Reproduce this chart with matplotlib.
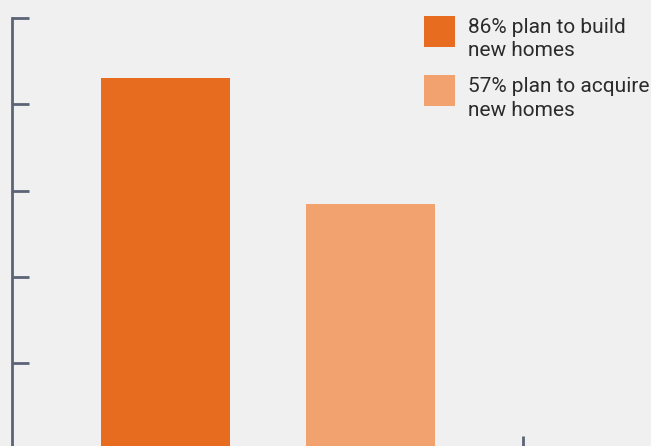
import matplotlib
matplotlib.use("Agg")
import matplotlib.pyplot as plt
from matplotlib.patches import Rectangle

categories = ["Build new homes", "Acquire new homes"]
values = [86, 57]
colors = ["#E86C1F", "#F2A26E"]
legend_labels = ["86% plan to build\nnew homes", "57% plan to acquire\nnew homes"]
yticks = [0, 20, 40, 60, 80, 100]

W, H = 651, 446
fig = plt.figure(figsize=(W / 100, H / 100), dpi=100)
fig.patch.set_facecolor("#F0F0F0")

left_px, top_px, bottom_px = 11.5, 18, 449.5
ax = fig.add_axes([left_px / W, (H - bottom_px) / H, (W - left_px) / W, (bottom_px - top_px) / H])
ax.set_facecolor("#F0F0F0")

x = list(range(len(categories)))
ax.bar(x, values, width=0.63, color=colors, zorder=2)

scale = 205.0
xmin = -(165.5 - left_px) / scale
ax.set_xlim(xmin, xmin + (W - left_px) / scale)
ax.set_ylim(0, 100)

spine_color = "#5B6377"
for s in ["top", "right"]:
    ax.spines[s].set_visible(False)
ax.spines["left"].set_color(spine_color)
ax.spines["left"].set_linewidth(2)
ax.spines["bottom"].set_visible(False)

ax.set_yticks(yticks)
ax.set_yticklabels([])
ax.tick_params(axis="y", direction="in", length=12, width=2, color=spine_color)
ax.set_xticks([1.744])
ax.set_xticklabels([])
ax.tick_params(axis="x", direction="in", length=10, width=2, color=spine_color)

# legend
sq = 31
entries_y = [16, 75]
for lab, col, y0 in zip(legend_labels, colors, entries_y):
    fig.patches.append(Rectangle((424 / W, (H - y0 - sq) / H), sq / W, sq / H,
                                 transform=fig.transFigure, facecolor=col, edgecolor="none"))
    fig.text(468 / W, (H - y0 - 2) / H, lab, ha="left", va="top", fontsize=15,
             family="Roboto", color="#2B2B2B", linespacing=1.3)

fig.savefig("out.png", dpi=100, facecolor=fig.get_facecolor())
